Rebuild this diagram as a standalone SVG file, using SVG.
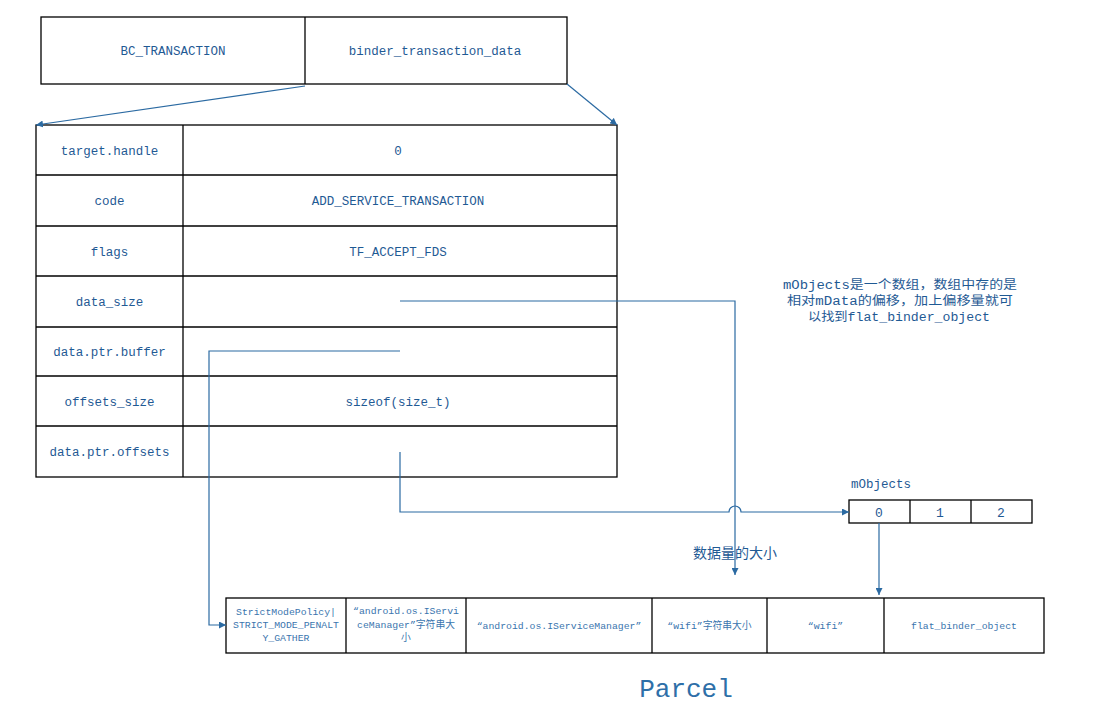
<svg xmlns="http://www.w3.org/2000/svg" width="1101" height="715" viewBox="0 0 1101 715">
<defs>
<style>
.box{fill:#fff;stroke:#000;stroke-width:1.3}
.ln{fill:none;stroke:#2b6aa2;stroke-width:1.2}
.t{font-family:"Liberation Mono","Noto Sans CJK SC",monospace;font-size:12.5px;fill:#1f5a94;text-anchor:middle}
.s{font-family:"Liberation Mono","Noto Sans CJK SC",monospace;font-size:9.8px;fill:#3a75ae;text-anchor:middle}
.n{font-family:"Liberation Mono","Noto Sans CJK SC",monospace;font-size:12px;fill:#1f5a94;text-anchor:middle}
.c{font-family:"Noto Sans CJK SC","Liberation Mono",sans-serif;font-size:14px;fill:#1f5a94;text-anchor:middle}
</style>
<marker id="ah" viewBox="0 0 10 10" refX="10" refY="5" markerWidth="7" markerHeight="7" markerUnits="userSpaceOnUse" orient="auto">
<path d="M0,0 L10,5 L0,10 z" fill="#2b6aa2"/>
</marker>
</defs>
<rect width="1101" height="715" fill="#fff"/>

<g id="header">
<rect class="box" x="41" y="17" width="526" height="67"/>
<line class="box" x1="305" y1="17" x2="305" y2="84"/>
<text class="t" x="173" y="55">BC_TRANSACTION</text>
<text class="t" x="435" y="55">binder_transaction_data</text>
</g>

<g id="table">
<rect class="box" x="36" y="125" width="581" height="352"/>
<line class="box" x1="183" y1="125" x2="183" y2="477"/>
<line class="box" x1="36" y1="175" x2="617" y2="175"/>
<line class="box" x1="36" y1="226" x2="617" y2="226"/>
<line class="box" x1="36" y1="276" x2="617" y2="276"/>
<line class="box" x1="36" y1="327" x2="617" y2="327"/>
<line class="box" x1="36" y1="376" x2="617" y2="376"/>
<line class="box" x1="36" y1="426" x2="617" y2="426"/>
<text class="t" x="109.5" y="154.5">target.handle</text>
<text class="t" x="398" y="154.5">0</text>
<text class="t" x="109.5" y="205">code</text>
<text class="t" x="398" y="205">ADD_SERVICE_TRANSACTION</text>
<text class="t" x="109.5" y="255.5">flags</text>
<text class="t" x="398" y="255.5">TF_ACCEPT_FDS</text>
<text class="t" x="109.5" y="306">data_size</text>
<text class="t" x="109.5" y="356">data.ptr.buffer</text>
<text class="t" x="109.5" y="405.5">offsets_size</text>
<text class="t" x="398" y="405.5">sizeof(size_t)</text>
<text class="t" x="109.5" y="456">data.ptr.offsets</text>
</g>

<g id="note">
<text class="n" x="900" y="289" textLength="234" lengthAdjust="spacingAndGlyphs">mObjects是一个数组，数组中存的是</text>
<text class="n" x="900" y="305" textLength="226" lengthAdjust="spacingAndGlyphs">相对mData的偏移，加上偏移量就可</text>
<text class="n" x="899" y="321" textLength="182" lengthAdjust="spacingAndGlyphs">以找到flat_binder_object</text>
</g>

<g id="mobjects">
<text class="t" x="881" y="488">mObjects</text>
<rect class="box" x="849" y="500" width="183" height="23"/>
<line class="box" x1="910" y1="500" x2="910" y2="523"/>
<line class="box" x1="971" y1="500" x2="971" y2="523"/>
<text class="t" x="879" y="516.5" style="font-size:13px">0</text>
<text class="t" x="940" y="516.5" style="font-size:13px">1</text>
<text class="t" x="1001" y="516.5" style="font-size:13px">2</text>
</g>

<g id="datasize-label">
<text class="c" x="735" y="558">数据量的大小</text>
</g>

<g id="parcel">
<rect class="box" x="226" y="598" width="818" height="55"/>
<line class="box" x1="346" y1="598" x2="346" y2="653"/>
<line class="box" x1="466" y1="598" x2="466" y2="653"/>
<line class="box" x1="652" y1="598" x2="652" y2="653"/>
<line class="box" x1="767" y1="598" x2="767" y2="653"/>
<line class="box" x1="884" y1="598" x2="884" y2="653"/>
<text class="s" x="286" y="615">StrictModePolicy|</text>
<text class="s" x="286" y="628">STRICT_MODE_PENALT</text>
<text class="s" x="286" y="641">Y_GATHER</text>
<text class="s" x="406" y="614">“android.os.IServi</text>
<text class="s" x="406" y="628">ceManager”字符串大</text>
<text class="s" x="406" y="641">小</text>
<text class="s" x="559" y="629">“android.os.IServiceManager”</text>
<text class="s" x="709.5" y="629">“wifi”字符串大小</text>
<text class="s" x="825.5" y="629">“wifi”</text>
<text class="s" x="964" y="629">flat_binder_object</text>
</g>

<g id="parcel-label">
<text x="686" y="697" style="font-family:'Liberation Mono',monospace;font-size:26px;fill:#2e6fa8;text-anchor:middle">Parcel</text>
</g>

<g id="connectors">
<line class="ln" x1="305" y1="86" x2="36" y2="125" marker-end="url(#ah)"/>
<line class="ln" x1="567" y1="84" x2="617" y2="125" marker-end="url(#ah)"/>
<path class="ln" d="M400,301 H735 V575" marker-end="url(#ah)"/>
<path class="ln" d="M400,351 H209 V625 H226" marker-end="url(#ah)"/>
<path class="ln" d="M400,452 V512 H729 A6,6 0 0 1 741,512 H849" marker-end="url(#ah)"/>
<path class="ln" d="M879,523 V595" marker-end="url(#ah)"/>
</g>
</svg>
